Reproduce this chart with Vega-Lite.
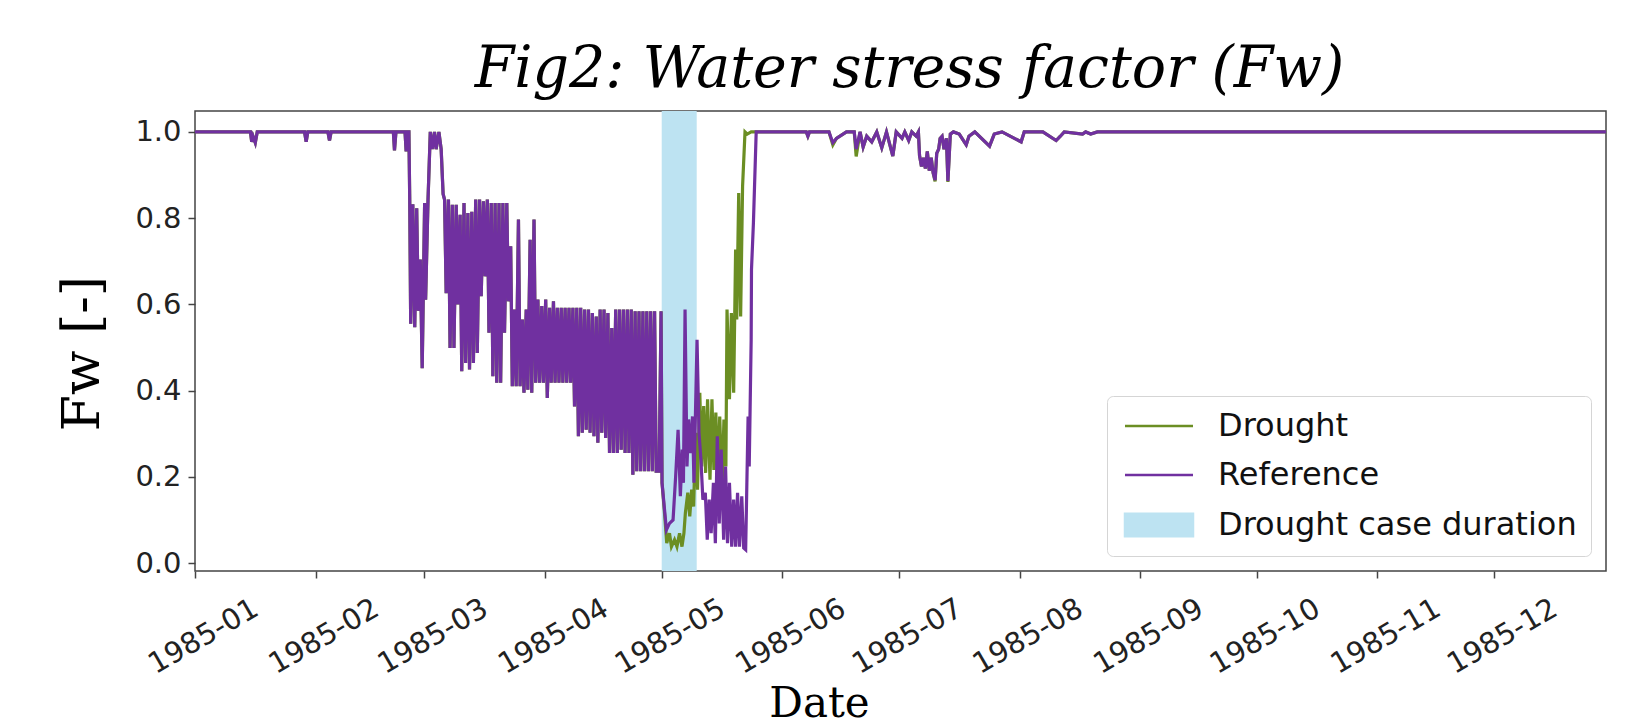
{
  "$schema": "https://vega.github.io/schema/vega-lite/v6.json",
  "width": 1411,
  "height": 460,
  "autosize": {"type": "none"},
  "padding": {"left": 195, "top": 111, "right": 30, "bottom": 157},
  "background": "white",
  "title": {
    "text": "Fig2: Water stress factor (Fw)",
    "font": "DejaVu Serif",
    "fontStyle": "italic",
    "fontWeight": "normal",
    "fontSize": 57,
    "color": "#000000",
    "anchor": "middle",
    "dx": 9,
    "dy": 55,
    "baseline": "alphabetic",
    "offset": 22
  },
  "config": {
    "view": {"stroke": "#444444", "strokeWidth": 1.5},
    "axis": {
      "grid": false,
      "domain": false,
      "tickColor": "#444444",
      "tickWidth": 1.5,
      "tickSize": 7,
      "labelFont": "DejaVu Sans",
      "labelColor": "#222222",
      "titleColor": "#000000",
      "titleFontWeight": "normal",
      "titleFont": "DejaVu Serif"
    },
    "legend": {
      "title": null,
      "orient": "bottom-right",
      "offset": 15,
      "labelFont": "DejaVu Sans",
      "labelFontSize": 32,
      "labelColor": "#111111",
      "labelLimit": 600,
      "symbolSize": 514,
      "symbolStrokeWidth": 2.5,
      "symbolOffset": 22,
      "labelOffset": 43,
      "rowPadding": 17,
      "padding": 14,
      "strokeColor": "#d5d5d5",
      "cornerRadius": 6,
      "fillColor": "#ffffff"
    }
  },
  "datasets": {
    "fw": [
      {"t": "1985-01-01T00:00Z", "Drought": 1, "Reference": 1},
      {"t": "1985-01-15T06:00Z", "Drought": 1, "Reference": 1},
      {"t": "1985-01-15T14:00Z", "Drought": 0.977, "Reference": 0.977},
      {"t": "1985-01-15T22:00Z", "Drought": 0.99, "Reference": 0.99},
      {"t": "1985-01-16T12:00Z", "Drought": 0.975, "Reference": 0.975},
      {"t": "1985-01-17T00:00Z", "Drought": 1, "Reference": 1},
      {"t": "1985-01-29T04:00Z", "Drought": 1, "Reference": 1},
      {"t": "1985-01-29T14:00Z", "Drought": 0.977, "Reference": 0.977},
      {"t": "1985-01-30T00:00Z", "Drought": 1, "Reference": 1},
      {"t": "1985-02-04T04:00Z", "Drought": 1, "Reference": 1},
      {"t": "1985-02-04T14:00Z", "Drought": 0.98, "Reference": 0.98},
      {"t": "1985-02-05T00:00Z", "Drought": 1, "Reference": 1},
      {"t": "1985-02-21T00:00Z", "Drought": 1, "Reference": 1},
      {"t": "1985-02-21T07:00Z", "Drought": 0.957, "Reference": 0.957},
      {"t": "1985-02-21T16:00Z", "Drought": 1, "Reference": 1},
      {"t": "1985-02-24T00:00Z", "Drought": 1, "Reference": 1},
      {"t": "1985-02-24T07:00Z", "Drought": 0.955, "Reference": 0.955},
      {"t": "1985-02-24T16:00Z", "Drought": 1, "Reference": 1},
      {"t": "1985-02-25T00:00Z", "Drought": 1, "Reference": 1},
      {"t": "1985-02-25T05:00Z", "Drought": 0.843, "Reference": 0.843},
      {"t": "1985-02-25T11:00Z", "Drought": 0.555, "Reference": 0.555},
      {"t": "1985-02-26T00:00Z", "Drought": 0.832, "Reference": 0.832},
      {"t": "1985-02-26T12:00Z", "Drought": 0.547, "Reference": 0.547},
      {"t": "1985-02-27T00:00Z", "Drought": 0.823, "Reference": 0.823},
      {"t": "1985-02-27T10:00Z", "Drought": 0.585, "Reference": 0.585},
      {"t": "1985-02-27T22:00Z", "Drought": 0.704, "Reference": 0.704},
      {"t": "1985-02-28T10:00Z", "Drought": 0.452, "Reference": 0.452},
      {"t": "1985-03-01T01:00Z", "Drought": 0.835, "Reference": 0.835},
      {"t": "1985-03-01T07:00Z", "Drought": 0.611, "Reference": 0.611},
      {"t": "1985-03-01T22:00Z", "Drought": 0.843, "Reference": 0.843},
      {"t": "1985-03-02T12:00Z", "Drought": 1, "Reference": 1},
      {"t": "1985-03-03T00:00Z", "Drought": 0.96, "Reference": 0.96},
      {"t": "1985-03-03T14:00Z", "Drought": 1, "Reference": 1},
      {"t": "1985-03-04T00:00Z", "Drought": 0.96, "Reference": 0.96},
      {"t": "1985-03-04T17:00Z", "Drought": 1, "Reference": 1},
      {"t": "1985-03-05T07:00Z", "Drought": 0.96, "Reference": 0.96},
      {"t": "1985-03-05T19:00Z", "Drought": 0.856, "Reference": 0.856},
      {"t": "1985-03-06T04:00Z", "Drought": 0.843, "Reference": 0.843},
      {"t": "1985-03-06T14:00Z", "Drought": 0.626, "Reference": 0.626},
      {"t": "1985-03-07T04:00Z", "Drought": 0.843, "Reference": 0.843},
      {"t": "1985-03-07T14:00Z", "Drought": 0.499, "Reference": 0.499},
      {"t": "1985-03-08T04:00Z", "Drought": 0.831, "Reference": 0.831},
      {"t": "1985-03-08T14:00Z", "Drought": 0.499, "Reference": 0.499},
      {"t": "1985-03-09T04:00Z", "Drought": 0.831, "Reference": 0.831},
      {"t": "1985-03-09T14:00Z", "Drought": 0.6, "Reference": 0.6},
      {"t": "1985-03-10T04:00Z", "Drought": 0.808, "Reference": 0.808},
      {"t": "1985-03-10T14:00Z", "Drought": 0.445, "Reference": 0.445},
      {"t": "1985-03-11T04:00Z", "Drought": 0.835, "Reference": 0.835},
      {"t": "1985-03-11T14:00Z", "Drought": 0.464, "Reference": 0.464},
      {"t": "1985-03-12T04:00Z", "Drought": 0.812, "Reference": 0.812},
      {"t": "1985-03-12T14:00Z", "Drought": 0.449, "Reference": 0.449},
      {"t": "1985-03-13T04:00Z", "Drought": 0.815, "Reference": 0.815},
      {"t": "1985-03-13T14:00Z", "Drought": 0.464, "Reference": 0.464},
      {"t": "1985-03-14T04:00Z", "Drought": 0.843, "Reference": 0.843},
      {"t": "1985-03-14T14:00Z", "Drought": 0.487, "Reference": 0.487},
      {"t": "1985-03-15T04:00Z", "Drought": 0.843, "Reference": 0.843},
      {"t": "1985-03-15T14:00Z", "Drought": 0.619, "Reference": 0.619},
      {"t": "1985-03-16T04:00Z", "Drought": 0.839, "Reference": 0.839},
      {"t": "1985-03-16T14:00Z", "Drought": 0.665, "Reference": 0.665},
      {"t": "1985-03-17T04:00Z", "Drought": 0.843, "Reference": 0.843},
      {"t": "1985-03-17T14:00Z", "Drought": 0.534, "Reference": 0.534},
      {"t": "1985-03-18T04:00Z", "Drought": 0.835, "Reference": 0.835},
      {"t": "1985-03-18T14:00Z", "Drought": 0.433, "Reference": 0.433},
      {"t": "1985-03-19T04:00Z", "Drought": 0.835, "Reference": 0.835},
      {"t": "1985-03-19T14:00Z", "Drought": 0.418, "Reference": 0.418},
      {"t": "1985-03-20T04:00Z", "Drought": 0.835, "Reference": 0.835},
      {"t": "1985-03-20T14:00Z", "Drought": 0.418, "Reference": 0.418},
      {"t": "1985-03-21T04:00Z", "Drought": 0.835, "Reference": 0.835},
      {"t": "1985-03-21T14:00Z", "Drought": 0.534, "Reference": 0.534},
      {"t": "1985-03-22T04:00Z", "Drought": 0.835, "Reference": 0.835},
      {"t": "1985-03-22T14:00Z", "Drought": 0.607, "Reference": 0.607},
      {"t": "1985-03-23T04:00Z", "Drought": 0.735, "Reference": 0.735},
      {"t": "1985-03-23T14:00Z", "Drought": 0.41, "Reference": 0.41},
      {"t": "1985-03-24T04:00Z", "Drought": 0.588, "Reference": 0.588},
      {"t": "1985-03-24T14:00Z", "Drought": 0.41, "Reference": 0.41},
      {"t": "1985-03-25T04:00Z", "Drought": 0.797, "Reference": 0.797},
      {"t": "1985-03-25T14:00Z", "Drought": 0.41, "Reference": 0.41},
      {"t": "1985-03-26T04:00Z", "Drought": 0.565, "Reference": 0.565},
      {"t": "1985-03-26T14:00Z", "Drought": 0.395, "Reference": 0.395},
      {"t": "1985-03-27T04:00Z", "Drought": 0.588, "Reference": 0.588},
      {"t": "1985-03-27T14:00Z", "Drought": 0.402, "Reference": 0.402},
      {"t": "1985-03-28T04:00Z", "Drought": 0.75, "Reference": 0.75},
      {"t": "1985-03-28T14:00Z", "Drought": 0.395, "Reference": 0.395},
      {"t": "1985-03-29T04:00Z", "Drought": 0.797, "Reference": 0.797},
      {"t": "1985-03-29T14:00Z", "Drought": 0.418, "Reference": 0.418},
      {"t": "1985-03-30T04:00Z", "Drought": 0.611, "Reference": 0.611},
      {"t": "1985-03-30T14:00Z", "Drought": 0.418, "Reference": 0.418},
      {"t": "1985-03-31T04:00Z", "Drought": 0.596, "Reference": 0.596},
      {"t": "1985-03-31T14:00Z", "Drought": 0.418, "Reference": 0.418},
      {"t": "1985-04-01T04:00Z", "Drought": 0.611, "Reference": 0.611},
      {"t": "1985-04-01T14:00Z", "Drought": 0.383, "Reference": 0.383},
      {"t": "1985-04-02T04:00Z", "Drought": 0.592, "Reference": 0.592},
      {"t": "1985-04-02T14:00Z", "Drought": 0.418, "Reference": 0.418},
      {"t": "1985-04-03T04:00Z", "Drought": 0.607, "Reference": 0.607},
      {"t": "1985-04-03T14:00Z", "Drought": 0.418, "Reference": 0.418},
      {"t": "1985-04-04T04:00Z", "Drought": 0.592, "Reference": 0.592},
      {"t": "1985-04-04T14:00Z", "Drought": 0.418, "Reference": 0.418},
      {"t": "1985-04-05T04:00Z", "Drought": 0.592, "Reference": 0.592},
      {"t": "1985-04-05T14:00Z", "Drought": 0.418, "Reference": 0.418},
      {"t": "1985-04-06T04:00Z", "Drought": 0.592, "Reference": 0.592},
      {"t": "1985-04-06T14:00Z", "Drought": 0.418, "Reference": 0.418},
      {"t": "1985-04-07T04:00Z", "Drought": 0.592, "Reference": 0.592},
      {"t": "1985-04-07T14:00Z", "Drought": 0.418, "Reference": 0.418},
      {"t": "1985-04-08T04:00Z", "Drought": 0.592, "Reference": 0.592},
      {"t": "1985-04-08T14:00Z", "Drought": 0.363, "Reference": 0.363},
      {"t": "1985-04-09T04:00Z", "Drought": 0.592, "Reference": 0.592},
      {"t": "1985-04-09T14:00Z", "Drought": 0.294, "Reference": 0.294},
      {"t": "1985-04-10T04:00Z", "Drought": 0.592, "Reference": 0.592},
      {"t": "1985-04-10T14:00Z", "Drought": 0.302, "Reference": 0.302},
      {"t": "1985-04-11T04:00Z", "Drought": 0.588, "Reference": 0.588},
      {"t": "1985-04-11T14:00Z", "Drought": 0.309, "Reference": 0.309},
      {"t": "1985-04-12T04:00Z", "Drought": 0.588, "Reference": 0.588},
      {"t": "1985-04-12T14:00Z", "Drought": 0.302, "Reference": 0.302},
      {"t": "1985-04-13T04:00Z", "Drought": 0.58, "Reference": 0.58},
      {"t": "1985-04-13T14:00Z", "Drought": 0.294, "Reference": 0.294},
      {"t": "1985-04-14T04:00Z", "Drought": 0.572, "Reference": 0.572},
      {"t": "1985-04-14T14:00Z", "Drought": 0.279, "Reference": 0.279},
      {"t": "1985-04-15T04:00Z", "Drought": 0.588, "Reference": 0.588},
      {"t": "1985-04-15T14:00Z", "Drought": 0.302, "Reference": 0.302},
      {"t": "1985-04-16T04:00Z", "Drought": 0.588, "Reference": 0.588},
      {"t": "1985-04-16T14:00Z", "Drought": 0.29, "Reference": 0.29},
      {"t": "1985-04-17T04:00Z", "Drought": 0.58, "Reference": 0.58},
      {"t": "1985-04-17T14:00Z", "Drought": 0.255, "Reference": 0.255},
      {"t": "1985-04-18T04:00Z", "Drought": 0.545, "Reference": 0.545},
      {"t": "1985-04-18T14:00Z", "Drought": 0.255, "Reference": 0.255},
      {"t": "1985-04-19T04:00Z", "Drought": 0.588, "Reference": 0.588},
      {"t": "1985-04-19T14:00Z", "Drought": 0.255, "Reference": 0.255},
      {"t": "1985-04-20T04:00Z", "Drought": 0.588, "Reference": 0.588},
      {"t": "1985-04-20T14:00Z", "Drought": 0.263, "Reference": 0.263},
      {"t": "1985-04-21T04:00Z", "Drought": 0.588, "Reference": 0.588},
      {"t": "1985-04-21T14:00Z", "Drought": 0.255, "Reference": 0.255},
      {"t": "1985-04-22T04:00Z", "Drought": 0.588, "Reference": 0.588},
      {"t": "1985-04-22T14:00Z", "Drought": 0.255, "Reference": 0.255},
      {"t": "1985-04-23T04:00Z", "Drought": 0.588, "Reference": 0.588},
      {"t": "1985-04-23T14:00Z", "Drought": 0.205, "Reference": 0.205},
      {"t": "1985-04-24T04:00Z", "Drought": 0.584, "Reference": 0.584},
      {"t": "1985-04-24T14:00Z", "Drought": 0.213, "Reference": 0.213},
      {"t": "1985-04-25T04:00Z", "Drought": 0.584, "Reference": 0.584},
      {"t": "1985-04-25T14:00Z", "Drought": 0.213, "Reference": 0.213},
      {"t": "1985-04-26T04:00Z", "Drought": 0.584, "Reference": 0.584},
      {"t": "1985-04-26T14:00Z", "Drought": 0.213, "Reference": 0.213},
      {"t": "1985-04-27T04:00Z", "Drought": 0.584, "Reference": 0.584},
      {"t": "1985-04-27T14:00Z", "Drought": 0.213, "Reference": 0.213},
      {"t": "1985-04-28T04:00Z", "Drought": 0.584, "Reference": 0.584},
      {"t": "1985-04-28T14:00Z", "Drought": 0.213, "Reference": 0.213},
      {"t": "1985-04-29T04:00Z", "Drought": 0.584, "Reference": 0.584},
      {"t": "1985-04-29T14:00Z", "Drought": 0.213, "Reference": 0.213},
      {"t": "1985-04-30T08:00Z", "Drought": 0.213, "Reference": 0.213},
      {"t": "1985-04-30T20:00Z", "Drought": 0.584, "Reference": 0.584},
      {"t": "1985-05-01T02:00Z", "Drought": 0.186, "Reference": 0.186},
      {"t": "1985-05-01T07:00Z", "Drought": 0.163},
      {"t": "1985-05-01T19:00Z", "Drought": 0.108},
      {"t": "1985-05-02T07:00Z", "Drought": 0.046},
      {"t": "1985-05-03T00:00Z", "Drought": 0.069},
      {"t": "1985-05-03T12:00Z", "Drought": 0.038},
      {"t": "1985-05-04T07:00Z", "Drought": 0.054},
      {"t": "1985-05-04T22:00Z", "Drought": 0.038},
      {"t": "1985-05-05T14:00Z", "Drought": 0.069},
      {"t": "1985-05-06T05:00Z", "Drought": 0.038},
      {"t": "1985-05-06T17:00Z", "Drought": 0.069},
      {"t": "1985-05-07T02:00Z", "Drought": 0.116},
      {"t": "1985-05-07T17:00Z", "Drought": 0.163},
      {"t": "1985-05-08T05:00Z", "Drought": 0.108},
      {"t": "1985-05-08T17:00Z", "Drought": 0.17},
      {"t": "1985-05-09T05:00Z", "Drought": 0.131},
      {"t": "1985-05-09T17:00Z", "Drought": 0.302},
      {"t": "1985-05-10T05:00Z", "Drought": 0.17},
      {"t": "1985-05-10T19:00Z", "Drought": 0.395},
      {"t": "1985-05-11T07:00Z", "Drought": 0.224},
      {"t": "1985-05-11T19:00Z", "Drought": 0.364},
      {"t": "1985-05-12T07:00Z", "Drought": 0.209},
      {"t": "1985-05-12T19:00Z", "Drought": 0.38},
      {"t": "1985-05-13T10:00Z", "Drought": 0.193},
      {"t": "1985-05-13T22:00Z", "Drought": 0.38},
      {"t": "1985-05-14T10:00Z", "Drought": 0.216},
      {"t": "1985-05-14T22:00Z", "Drought": 0.349},
      {"t": "1985-05-15T10:00Z", "Drought": 0.186},
      {"t": "1985-05-15T22:00Z", "Drought": 0.34},
      {"t": "1985-05-16T12:00Z", "Drought": 0.17},
      {"t": "1985-05-17T00:00Z", "Drought": 0.333},
      {"t": "1985-05-17T12:00Z", "Drought": 0.224},
      {"t": "1985-05-17T19:00Z", "Drought": 0.588},
      {"t": "1985-05-18T10:00Z", "Drought": 0.38},
      {"t": "1985-05-18T22:00Z", "Drought": 0.58},
      {"t": "1985-05-19T12:00Z", "Drought": 0.395},
      {"t": "1985-05-20T00:00Z", "Drought": 0.727},
      {"t": "1985-05-20T07:00Z", "Drought": 0.565},
      {"t": "1985-05-20T19:00Z", "Drought": 0.858},
      {"t": "1985-05-21T07:00Z", "Drought": 0.572},
      {"t": "1985-05-21T19:00Z", "Drought": 0.874},
      {"t": "1985-05-22T10:00Z", "Drought": 1},
      {"t": "1985-05-23T00:00Z", "Drought": 0.995},
      {"t": "1985-05-24T00:00Z", "Drought": 1},
      {"t": "1985-05-02T05:00Z", "Reference": 0.077},
      {"t": "1985-05-03T00:00Z", "Reference": 0.092},
      {"t": "1985-05-03T22:00Z", "Reference": 0.1},
      {"t": "1985-05-04T14:00Z", "Reference": 0.201},
      {"t": "1985-05-05T05:00Z", "Reference": 0.309},
      {"t": "1985-05-05T19:00Z", "Reference": 0.155},
      {"t": "1985-05-06T07:00Z", "Reference": 0.263},
      {"t": "1985-05-06T14:00Z", "Reference": 0.186},
      {"t": "1985-05-07T00:00Z", "Reference": 0.588},
      {"t": "1985-05-07T12:00Z", "Reference": 0.224},
      {"t": "1985-05-07T22:00Z", "Reference": 0.333},
      {"t": "1985-05-08T10:00Z", "Reference": 0.255},
      {"t": "1985-05-08T22:00Z", "Reference": 0.34},
      {"t": "1985-05-09T07:00Z", "Reference": 0.186},
      {"t": "1985-05-10T02:00Z", "Reference": 0.518},
      {"t": "1985-05-10T14:00Z", "Reference": 0.302},
      {"t": "1985-05-11T02:00Z", "Reference": 0.24},
      {"t": "1985-05-11T14:00Z", "Reference": 0.147},
      {"t": "1985-05-12T05:00Z", "Reference": 0.163},
      {"t": "1985-05-12T17:00Z", "Reference": 0.054},
      {"t": "1985-05-13T05:00Z", "Reference": 0.147},
      {"t": "1985-05-13T17:00Z", "Reference": 0.069},
      {"t": "1985-05-14T07:00Z", "Reference": 0.186},
      {"t": "1985-05-14T19:00Z", "Reference": 0.046},
      {"t": "1985-05-15T07:00Z", "Reference": 0.294},
      {"t": "1985-05-15T19:00Z", "Reference": 0.092},
      {"t": "1985-05-16T07:00Z", "Reference": 0.263},
      {"t": "1985-05-16T22:00Z", "Reference": 0.054},
      {"t": "1985-05-17T10:00Z", "Reference": 0.224},
      {"t": "1985-05-17T22:00Z", "Reference": 0.046},
      {"t": "1985-05-18T10:00Z", "Reference": 0.186},
      {"t": "1985-05-19T00:00Z", "Reference": 0.038},
      {"t": "1985-05-19T12:00Z", "Reference": 0.147},
      {"t": "1985-05-20T00:00Z", "Reference": 0.038},
      {"t": "1985-05-20T12:00Z", "Reference": 0.163},
      {"t": "1985-05-21T00:00Z", "Reference": 0.038},
      {"t": "1985-05-21T14:00Z", "Reference": 0.155},
      {"t": "1985-05-22T02:00Z", "Reference": 0.035},
      {"t": "1985-05-22T14:00Z", "Reference": 0.031},
      {"t": "1985-05-23T05:00Z", "Reference": 0.34},
      {"t": "1985-05-23T12:00Z", "Reference": 0.224},
      {"t": "1985-05-24T00:00Z", "Reference": 0.518},
      {"t": "1985-05-24T02:00Z", "Reference": 0.681},
      {"t": "1985-05-24T14:00Z", "Reference": 0.79},
      {"t": "1985-05-25T07:00Z", "Reference": 1},
      {"t": "1985-05-26T00:00Z", "Drought": 1, "Reference": 1},
      {"t": "1985-06-07T04:00Z", "Drought": 1, "Reference": 1},
      {"t": "1985-06-07T14:00Z", "Drought": 0.99, "Reference": 0.99},
      {"t": "1985-06-08T00:00Z", "Drought": 1, "Reference": 1},
      {"t": "1985-06-13T00:00Z", "Drought": 1, "Reference": 1},
      {"t": "1985-06-14T00:00Z", "Drought": 0.97, "Reference": 0.975},
      {"t": "1985-06-14T22:00Z", "Drought": 0.985, "Reference": 0.985},
      {"t": "1985-06-17T12:00Z", "Drought": 1, "Reference": 1},
      {"t": "1985-06-19T12:00Z", "Drought": 1, "Reference": 1},
      {"t": "1985-06-20T00:00Z", "Drought": 0.943, "Reference": 0.96},
      {"t": "1985-06-21T00:00Z", "Drought": 1, "Reference": 1},
      {"t": "1985-06-21T19:00Z", "Drought": 0.965, "Reference": 0.965},
      {"t": "1985-06-22T17:00Z", "Drought": 0.99, "Reference": 0.99},
      {"t": "1985-06-24T00:00Z", "Drought": 0.977, "Reference": 0.977},
      {"t": "1985-06-25T07:00Z", "Drought": 1, "Reference": 1},
      {"t": "1985-06-26T14:00Z", "Drought": 0.963, "Reference": 0.963},
      {"t": "1985-06-27T19:00Z", "Drought": 1, "Reference": 1},
      {"t": "1985-06-29T10:00Z", "Drought": 0.944, "Reference": 0.944},
      {"t": "1985-06-30T07:00Z", "Drought": 1, "Reference": 1},
      {"t": "1985-07-01T19:00Z", "Drought": 0.985, "Reference": 0.985},
      {"t": "1985-07-02T12:00Z", "Drought": 1, "Reference": 1},
      {"t": "1985-07-03T12:00Z", "Drought": 0.98, "Reference": 0.98},
      {"t": "1985-07-04T07:00Z", "Drought": 1, "Reference": 1},
      {"t": "1985-07-05T10:00Z", "Drought": 0.99, "Reference": 0.99},
      {"t": "1985-07-06T00:00Z", "Drought": 1, "Reference": 1},
      {"t": "1985-07-06T07:00Z", "Drought": 0.945, "Reference": 0.945},
      {"t": "1985-07-06T19:00Z", "Drought": 0.92, "Reference": 0.92},
      {"t": "1985-07-07T07:00Z", "Drought": 0.94, "Reference": 0.94},
      {"t": "1985-07-07T19:00Z", "Drought": 0.915, "Reference": 0.915},
      {"t": "1985-07-08T07:00Z", "Drought": 0.955, "Reference": 0.955},
      {"t": "1985-07-08T19:00Z", "Drought": 0.91, "Reference": 0.91},
      {"t": "1985-07-09T07:00Z", "Drought": 0.94, "Reference": 0.94},
      {"t": "1985-07-09T19:00Z", "Drought": 0.905, "Reference": 0.905},
      {"t": "1985-07-10T07:00Z", "Drought": 0.885, "Reference": 0.888},
      {"t": "1985-07-10T17:00Z", "Drought": 0.95, "Reference": 0.95},
      {"t": "1985-07-11T05:00Z", "Drought": 0.96, "Reference": 0.96},
      {"t": "1985-07-11T14:00Z", "Drought": 0.985, "Reference": 0.985},
      {"t": "1985-07-12T02:00Z", "Drought": 0.99, "Reference": 0.99},
      {"t": "1985-07-12T14:00Z", "Drought": 0.96, "Reference": 0.96},
      {"t": "1985-07-13T05:00Z", "Drought": 0.985, "Reference": 0.985},
      {"t": "1985-07-13T14:00Z", "Drought": 0.884, "Reference": 0.886},
      {"t": "1985-07-14T05:00Z", "Drought": 0.995, "Reference": 0.995},
      {"t": "1985-07-15T00:00Z", "Drought": 1, "Reference": 1},
      {"t": "1985-07-16T12:00Z", "Drought": 0.995, "Reference": 0.995},
      {"t": "1985-07-18T07:00Z", "Drought": 0.97, "Reference": 0.97},
      {"t": "1985-07-19T00:00Z", "Drought": 0.99, "Reference": 0.99},
      {"t": "1985-07-20T12:00Z", "Drought": 1, "Reference": 1},
      {"t": "1985-07-24T07:00Z", "Drought": 0.967, "Reference": 0.967},
      {"t": "1985-07-25T12:00Z", "Drought": 0.995, "Reference": 0.995},
      {"t": "1985-07-27T12:00Z", "Drought": 1, "Reference": 1},
      {"t": "1985-08-01T10:00Z", "Drought": 0.977, "Reference": 0.977},
      {"t": "1985-08-02T05:00Z", "Drought": 1, "Reference": 1},
      {"t": "1985-08-07T00:00Z", "Drought": 1, "Reference": 1},
      {"t": "1985-08-10T10:00Z", "Drought": 0.98, "Reference": 0.98},
      {"t": "1985-08-11T12:00Z", "Drought": 0.99, "Reference": 0.99},
      {"t": "1985-08-12T12:00Z", "Drought": 1, "Reference": 1},
      {"t": "1985-08-17T05:00Z", "Drought": 0.995, "Reference": 0.995},
      {"t": "1985-08-18T00:00Z", "Drought": 1, "Reference": 1},
      {"t": "1985-08-19T07:00Z", "Drought": 0.995, "Reference": 0.995},
      {"t": "1985-08-21T00:00Z", "Drought": 1, "Reference": 1},
      {"t": "1985-12-31T23:00Z", "Drought": 1, "Reference": 1}
    ],
    "band": [
      {"start": "1985-05-01T00:00Z", "end": "1985-05-10T00:00Z"}
    ]
  },
  "layer": [
    {
      "data": {"name": "band"},
      "mark": {"type": "rect", "opacity": 1, "clip": true},
      "encoding": {
        "x": {
          "field": "start",
          "type": "temporal",
          "scale": {
            "type": "utc",
            "domain": [
              {"year": 1985, "month": 1, "date": 1, "utc": true},
              {"year": 1985, "month": 12, "date": 29, "hours": 19, "utc": true}
            ]
          },
          "axis": {
            "values": [
              {"year": 1985, "month": 1, "date": 1, "utc": true},
              {"year": 1985, "month": 2, "date": 1, "utc": true},
              {"year": 1985, "month": 3, "date": 1, "utc": true},
              {"year": 1985, "month": 4, "date": 1, "utc": true},
              {"year": 1985, "month": 5, "date": 1, "utc": true},
              {"year": 1985, "month": 6, "date": 1, "utc": true},
              {"year": 1985, "month": 7, "date": 1, "utc": true},
              {"year": 1985, "month": 8, "date": 1, "utc": true},
              {"year": 1985, "month": 9, "date": 1, "utc": true},
              {"year": 1985, "month": 10, "date": 1, "utc": true},
              {"year": 1985, "month": 11, "date": 1, "utc": true},
              {"year": 1985, "month": 12, "date": 1, "utc": true}
            ],
            "format": "%Y-%m",
            "labelFontSize": 29,
            "labelAngle": -30,
            "labelAlign": "center",
            "labelBaseline": "middle",
            "labelPadding": 58,
            "labelOffset": 8,
            "labelFlush": false,
            "labelOverlap": false,
            "title": "Date",
            "titleFontSize": 42,
            "titleX": 624,
            "titleY": 145,
            "titleAlign": "center",
            "titleBaseline": "alphabetic"
          }
        },
        "x2": {"field": "end"},
        "color": {
          "datum": "Drought case duration",
          "type": "nominal",
          "scale": {
            "domain": ["Drought", "Reference", "Drought case duration"],
            "range": ["#6b8e23", "#7030a0", "#bde3f2"]
          },
          "legend": {
            "title": null,
            "encode": {
              "symbols": {
                "update": {
                  "shape": {"signal": "datum.value === 'Drought case duration' ? 'M-3,-1H3V1H-3Z' : 'M-3,0H3'"},
                  "fill": {"signal": "datum.value === 'Drought case duration' ? '#bde3f2' : 'transparent'"},
                  "stroke": {"signal": "datum.value === 'Drought' ? '#6b8e23' : datum.value === 'Reference' ? '#7030a0' : 'transparent'"},
                  "strokeWidth": {"value": 2.5},
                  "opacity": {"value": 1}
                }
              }
            }
          }
        }
      }
    },
    {
      "data": {"name": "fw"},
      "transform": [
        {"fold": ["Drought", "Reference"], "as": ["series", "value"]},
        {"filter": "datum.series === 'Drought' && isValid(datum.value)"}
      ],
      "mark": {"type": "line", "strokeWidth": 3.2, "clip": true},
      "encoding": {
        "x": {"field": "t", "type": "temporal"},
        "y": {
          "field": "value",
          "type": "quantitative",
          "scale": {"domain": [-0.0185, 1.0485], "nice": false, "zero": false},
          "axis": {
            "values": [0, 0.2, 0.4, 0.6, 0.8, 1.0],
            "format": ".1f",
            "labelFontSize": 29,
            "labelPadding": 7,
            "title": "Fw [-]",
            "titleFontSize": 52,
            "titleAngle": -90,
            "titleX": -113,
            "titleY": 242,
            "titleAlign": "center",
            "titleBaseline": "middle"
          }
        },
        "color": {
          "field": "series",
          "type": "nominal",
          "legend": {
            "title": null,
            "encode": {
              "symbols": {
                "update": {
                  "shape": {"signal": "datum.value === 'Drought case duration' ? 'M-3,-1H3V1H-3Z' : 'M-3,0H3'"},
                  "fill": {"signal": "datum.value === 'Drought case duration' ? '#bde3f2' : 'transparent'"},
                  "stroke": {"signal": "datum.value === 'Drought' ? '#6b8e23' : datum.value === 'Reference' ? '#7030a0' : 'transparent'"},
                  "strokeWidth": {"value": 2.5},
                  "opacity": {"value": 1}
                }
              }
            }
          }
        }
      }
    },
    {
      "data": {"name": "fw"},
      "transform": [
        {"fold": ["Drought", "Reference"], "as": ["series", "value"]},
        {"filter": "datum.series === 'Reference' && isValid(datum.value)"}
      ],
      "mark": {"type": "line", "strokeWidth": 3.2, "clip": true},
      "encoding": {
        "x": {"field": "t", "type": "temporal"},
        "y": {"field": "value", "type": "quantitative"},
        "color": {
          "field": "series",
          "type": "nominal",
          "legend": {
            "title": null,
            "encode": {
              "symbols": {
                "update": {
                  "shape": {"signal": "datum.value === 'Drought case duration' ? 'M-3,-1H3V1H-3Z' : 'M-3,0H3'"},
                  "fill": {"signal": "datum.value === 'Drought case duration' ? '#bde3f2' : 'transparent'"},
                  "stroke": {"signal": "datum.value === 'Drought' ? '#6b8e23' : datum.value === 'Reference' ? '#7030a0' : 'transparent'"},
                  "strokeWidth": {"value": 2.5},
                  "opacity": {"value": 1}
                }
              }
            }
          }
        }
      }
    }
  ]
}
